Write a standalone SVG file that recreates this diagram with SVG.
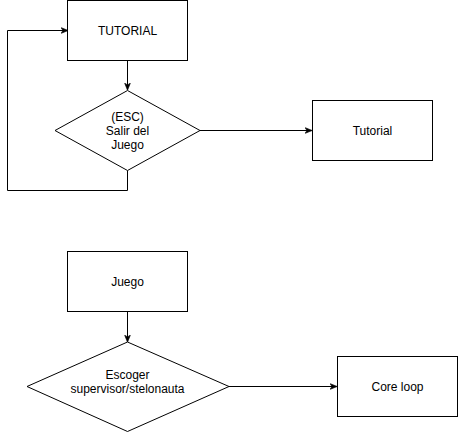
<svg xmlns="http://www.w3.org/2000/svg" width="459" height="432" viewBox="0 0 459 432">
<style>
.box{fill:#fff;stroke:#000;stroke-width:1}
.edge{fill:none;stroke:#000;stroke-width:1}
text{font-family:"Liberation Sans",Arial,sans-serif;font-size:12px;fill:#000;text-anchor:middle;dominant-baseline:central}
</style>
<defs>
<marker id="arr" viewBox="0 0 10 10" refX="9" refY="5" markerWidth="7" markerHeight="7" orient="auto" markerUnits="userSpaceOnUse">
<path d="M0,1 L10,5 L0,9 L2.5,5 Z" fill="#000" stroke="#000" stroke-width="1"/>
</marker>
</defs>
<rect width="459" height="432" fill="#fff"/>
<g id="connectors">
<path class="edge" d="M127.5,60.5 L127.5,89.5" marker-end="url(#arr)"/>
<path class="edge" d="M127.5,170.5 L127.5,190.5 L7.5,190.5 L7.5,30.5 L67.5,30.5" marker-end="url(#arr)"/>
<path class="edge" d="M200,130.5 L311.5,130.5" marker-end="url(#arr)"/>
<path class="edge" d="M127.5,311.5 L127.5,341.5" marker-end="url(#arr)"/>
<path class="edge" d="M229,386.5 L336.5,386.5" marker-end="url(#arr)"/>
</g>
<g id="tutorial-main">
<rect class="box" x="67.5" y="0.5" width="120" height="60"/>
<text x="127.5" y="31">TUTORIAL</text>
</g>
<g id="esc-decision">
<path class="box" d="M127.5,90.5 L200,130.5 L127.5,170.5 L55,130.5 Z"/>
<text x="127.5" y="117">(ESC)</text>
<text x="127.5" y="131">Salir del</text>
<text x="127.5" y="145">Juego</text>
</g>
<g id="tutorial">
<rect class="box" x="312.5" y="100.5" width="120" height="60"/>
<text x="372.5" y="130.5">Tutorial</text>
</g>
<g id="juego">
<rect class="box" x="67.5" y="251.5" width="120" height="60"/>
<text x="127.5" y="282">Juego</text>
</g>
<g id="escoger-decision">
<path class="box" d="M127.5,342 L229,386.5 L127.5,431.5 L27,386.5 Z"/>
<text x="127.5" y="375">Escoger</text>
<text x="127.5" y="389">supervisor/stelonauta</text>
</g>
<g id="core-loop">
<rect class="box" x="337.5" y="356.5" width="120" height="60"/>
<text x="397.5" y="386.5">Core loop</text>
</g>
</svg>
